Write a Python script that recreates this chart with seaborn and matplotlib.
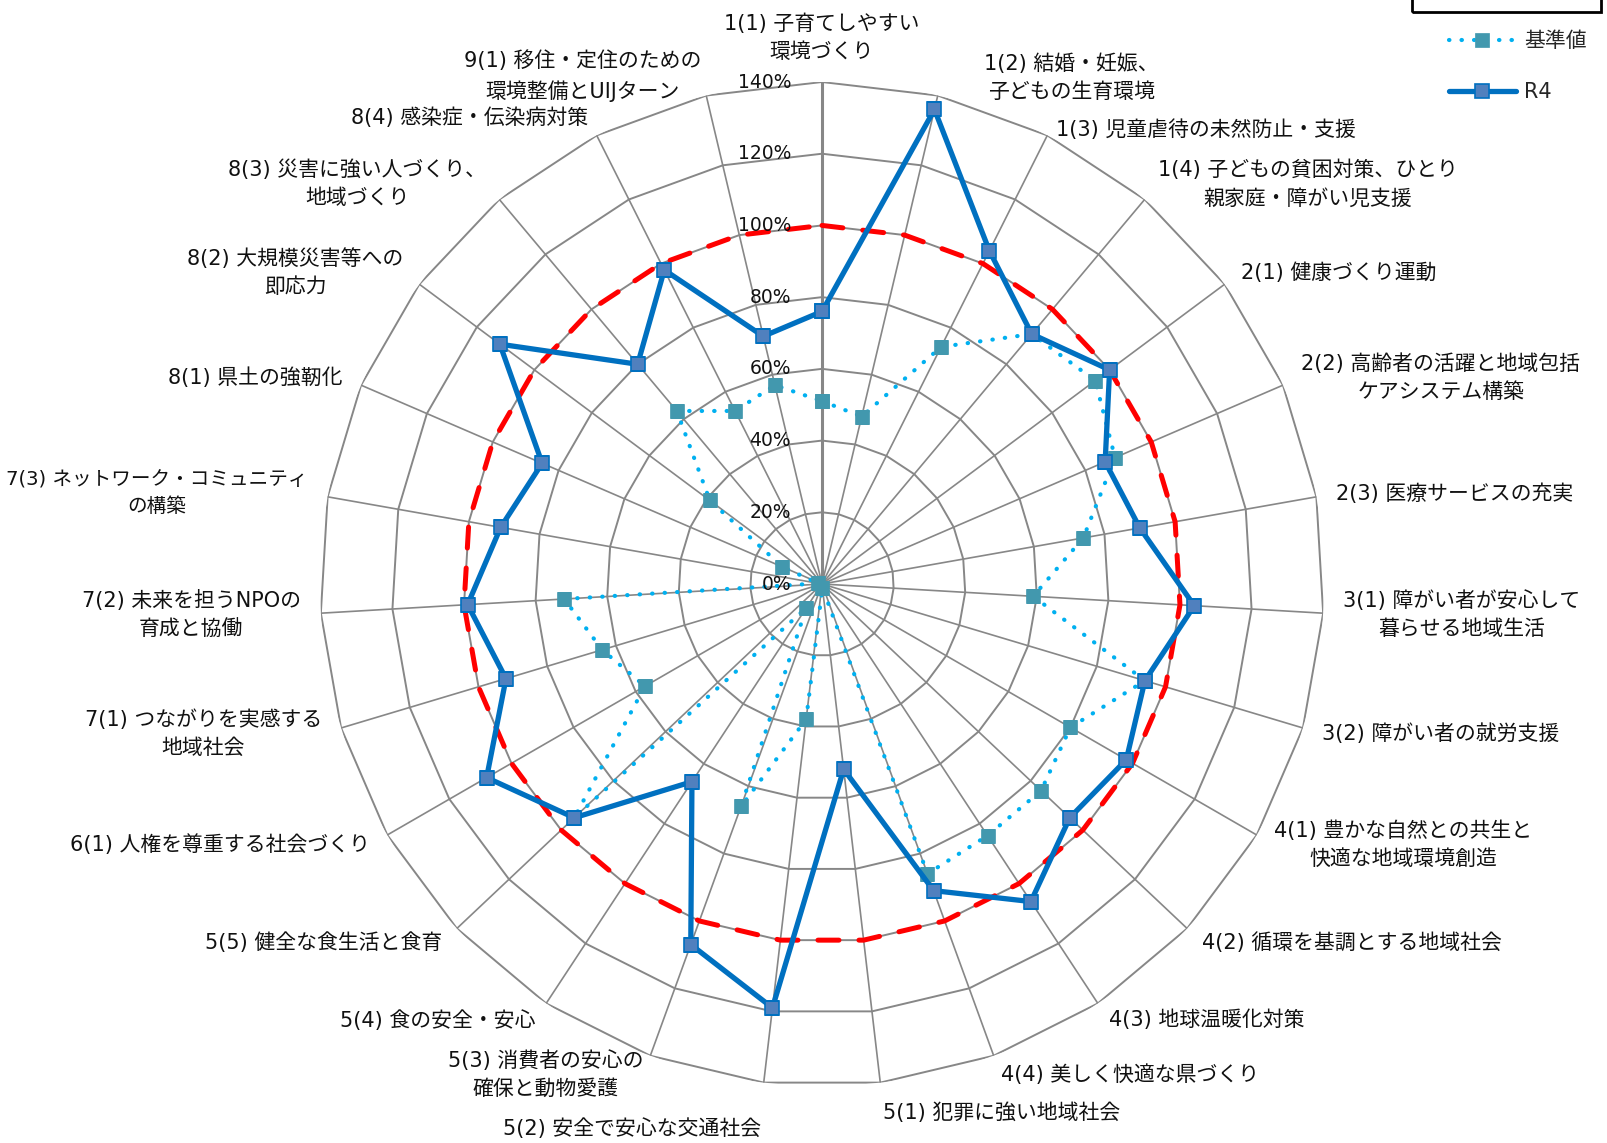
import numpy as np
import pandas as pd
import matplotlib
matplotlib.use("Agg")
import matplotlib.pyplot as plt
import seaborn as sns
from matplotlib.patches import Rectangle

# ---------------- data ----------------
categories = [
    "1(1) 子育てしやすい\n環境づくり",
    "1(2) 結婚・妊娠、\n子どもの生育環境",
    "1(3) 児童虐待の未然防止・支援",
    "1(4) 子どもの貧困対策、ひとり\n親家庭・障がい児支援",
    "2(1) 健康づくり運動",
    "2(2) 高齢者の活躍と地域包括\nケアシステム構築",
    "2(3) 医療サービスの充実",
    "3(1) 障がい者が安心して\n暮らせる地域生活",
    "3(2) 障がい者の就労支援",
    "4(1) 豊かな自然との共生と\n快適な地域環境創造",
    "4(2) 循環を基調とする地域社会",
    "4(3) 地球温暖化対策",
    "4(4) 美しく快適な県づくり",
    "5(1) 犯罪に強い地域社会",
    "5(2) 安全で安心な交通社会",
    "5(3) 消費者の安心の\n確保と動物愛護",
    "5(4) 食の安全・安心",
    "5(5) 健全な食生活と食育",
    "6(1) 人権を尊重する社会づくり",
    "7(1) つながりを実感する\n地域社会",
    "7(2) 未来を担うNPOの\n育成と協働",
    "7(3) ネットワーク・コミュニティ\nの構築",
    "8(1) 県土の強靭化",
    "8(2) 大規模災害等への\n即応力",
    "8(3) 災害に強い人づくり、\n地域づくり",
    "8(4) 感染症・伝染病対策",
    "9(1) 移住・定住のための\n環境整備とUIJターン",
]

kijun = [51, 48, 74, 91, 95, 89, 74, 59, 94, 80, 84, 84, 86, 1,
         38, 66, 8, 95, 57, 64, 72, 1, 12, 39, 63, 54, 57]
r4 = [76, 136, 104, 91, 100, 86, 90, 104, 94, 98, 95, 106, 91, 52,
      119, 107, 66, 95, 108, 92, 99, 91, 85, 112, 80, 98, 71]
target = [100] * 27

r_ticks = [0, 20, 40, 60, 80, 100, 120, 140]
r_tick_labels = ["0%", "20%", "40%", "60%", "80%", "100%", "120%", "140%"]
series_names = ["基準値", "R4"]

# ---------------- style ----------------
sns.set_theme(style="white")
plt.rcParams["font.family"] = ["DejaVu Sans", "Noto Sans CJK JP"]

W, H = 1607, 1143
fig = plt.figure(figsize=(W / 100, H / 100), dpi=100)
cx, cy, R = 822, 584, 502
ax = fig.add_axes([(cx - R) / W, (H - cy - R) / H, 2 * R / W, 2 * R / H],
                  projection="polar")
ax.set_theta_zero_location("N")
ax.set_theta_direction(-1)
rmax = r_ticks[-1]
ax.set_ylim(0, rmax)

n = len(categories)
theta = np.arange(n) * 2 * np.pi / n
theta_c = np.append(theta, 2 * np.pi)

def closed(v):
    return np.append(np.asarray(v, float), v[0])

gray = "#878787"
# spokes
ax.set_xticks(theta)
ax.set_xticklabels([])
ax.xaxis.grid(True, color=gray, linewidth=1.2)
ax.yaxis.grid(False)
ax.set_yticks([])
ax.spines["polar"].set_visible(False)
# polygon rings
for r in r_ticks[1:]:
    ax.plot(theta_c, [r] * (n + 1), color=gray, linewidth=1.4, zorder=1)
# value axis (thicker)
ax.plot([0, 0], [0, rmax], color=gray, linewidth=2.2, zorder=1)

# radial tick labels
for r, lab in zip(r_ticks, r_tick_labels):
    ax.annotate(lab, xy=(0, r), xytext=(-31, 0), textcoords="offset pixels",
                ha="right", va="center", fontsize=13.5, family="DejaVu Sans",
                color="#111111", annotation_clip=False, zorder=6)

# ---------------- series ----------------
sns.lineplot(x=theta_c, y=closed(target), ax=ax, sort=False, estimator=None,
             color="#FF0000", linewidth=3.6, linestyle=(0, (4.2, 4.0)),
             dash_capstyle="round", zorder=2, legend=False)
sns.lineplot(x=theta_c, y=closed(kijun), ax=ax, sort=False, estimator=None,
             color="#00B0F0", linewidth=3.0, linestyle=(0, (0.1, 2.9)),
             dash_capstyle="round", marker="s", markersize=10,
             markerfacecolor="#4298AE", markeredgecolor="#4298AE",
             markeredgewidth=0.5, zorder=3, label=series_names[0], legend=False)
sns.lineplot(x=theta_c, y=closed(r4), ax=ax, sort=False, estimator=None,
             color="#0070C0", linewidth=3.8, linestyle="-",
             marker="s", markersize=9.8, markerfacecolor="#5080BE",
             markeredgecolor="#0070C0", markeredgewidth=1.2, zorder=4,
             label=series_names[1], legend=False)
if ax.get_legend() is not None:
    ax.get_legend().remove()
ax.set_xlabel("")
ax.set_ylabel("")

# ---------------- category labels ----------------
anns = []
for th, lab in zip(theta, categories):
    a = ax.annotate(lab, xy=(th, rmax), xytext=(0, 0), textcoords="offset pixels",
                    ha="center", va="center", multialignment="center",
                    fontsize=15, color="#111111", linespacing=1.5,
                    annotation_clip=False, zorder=6)
    anns.append(a)
pad = 20
margin = 6
label_nudge = {1: (42, -2), 2: (0, -12), 14: (0, -16)}

def place_labels():
    fig.canvas.draw()
    renderer = fig.canvas.get_renderer()
    for i, (a, th) in enumerate(zip(anns, theta)):
        bb = a.get_window_extent(renderer)
        w, h = bb.width, bb.height
        s, c = np.sin(th), np.cos(th)
        dx = pad * s + (np.sign(s) * w / 2 if abs(s) > 0.01 else 0.0)
        dy = pad * c + (np.sign(c) * h / 2 if abs(s) < 0.15 else 0.0)
        ndx, ndy = label_nudge.get(i, (0, 0))
        a.xyann = (dx + ndx, dy + ndy)

place_labels()
# shrink any label that would run off the figure edge
fig.canvas.draw()
renderer = fig.canvas.get_renderer()
for a in anns:
    bb = a.get_window_extent(renderer)
    if bb.x0 < margin or bb.x1 > W - margin:
        avail = bb.width - max(margin - bb.x0, bb.x1 - (W - margin))
        a.set_fontsize(a.get_fontsize() * avail / bb.width)
place_labels()

# ---------------- legend ----------------
handles = [l for l in ax.get_lines() if l.get_label() in series_names]
handles = sorted(handles, key=lambda l: series_names.index(l.get_label()))
fig.legend(handles=handles, labels=series_names, loc="upper left",
           bbox_to_anchor=(1449 / W, 1 - 31 / H), frameon=False,
           fontsize=15, handlelength=3.2, handletextpad=0.4,
           labelspacing=1.5, borderpad=0, borderaxespad=0)
fig.patches.append(Rectangle((1412 / W, 1 - 12 / H), (1601 - 1412) / W, 40 / H,
                             transform=fig.transFigure, fill=False,
                             edgecolor="black", linewidth=2))

fig.savefig("out.png", dpi=100)
